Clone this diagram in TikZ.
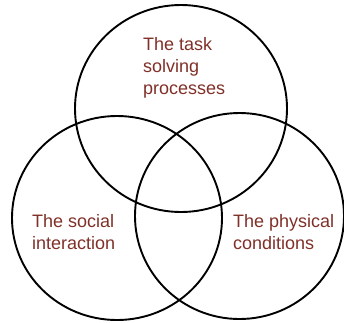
\documentclass[tikz,border=0pt]{standalone}
\usepackage{fontspec}
\setmainfont{Liberation Sans}
\definecolor{labelbrown}{RGB}{128,48,40}
\tikzset{
  venn/.style={draw=black, line width=1.9pt},
  vlabel/.style={text=labelbrown, font=\fontsize{18}{22}\selectfont, align=left, anchor=north west, inner sep=0pt}
}
\begin{document}
\begin{tikzpicture}[x=1pt,y=-1pt]
\useasboundingbox (0,0) rectangle (344,322);
\draw[venn] (181,108.5) ellipse [x radius=106, y radius=103.5];
\draw[venn] (117,218) ellipse [x radius=105, y radius=102];
\draw[venn] (239.5,216) ellipse [x radius=104.5, y radius=103];
\node[vlabel] (task) at (143,37) {The task\\solving\\processes};
\node[vlabel] (social) at (32,214) {The social\\interaction};
\node[vlabel] (physical) at (233,214) {The physical\\conditions};
\end{tikzpicture}
\end{document}
